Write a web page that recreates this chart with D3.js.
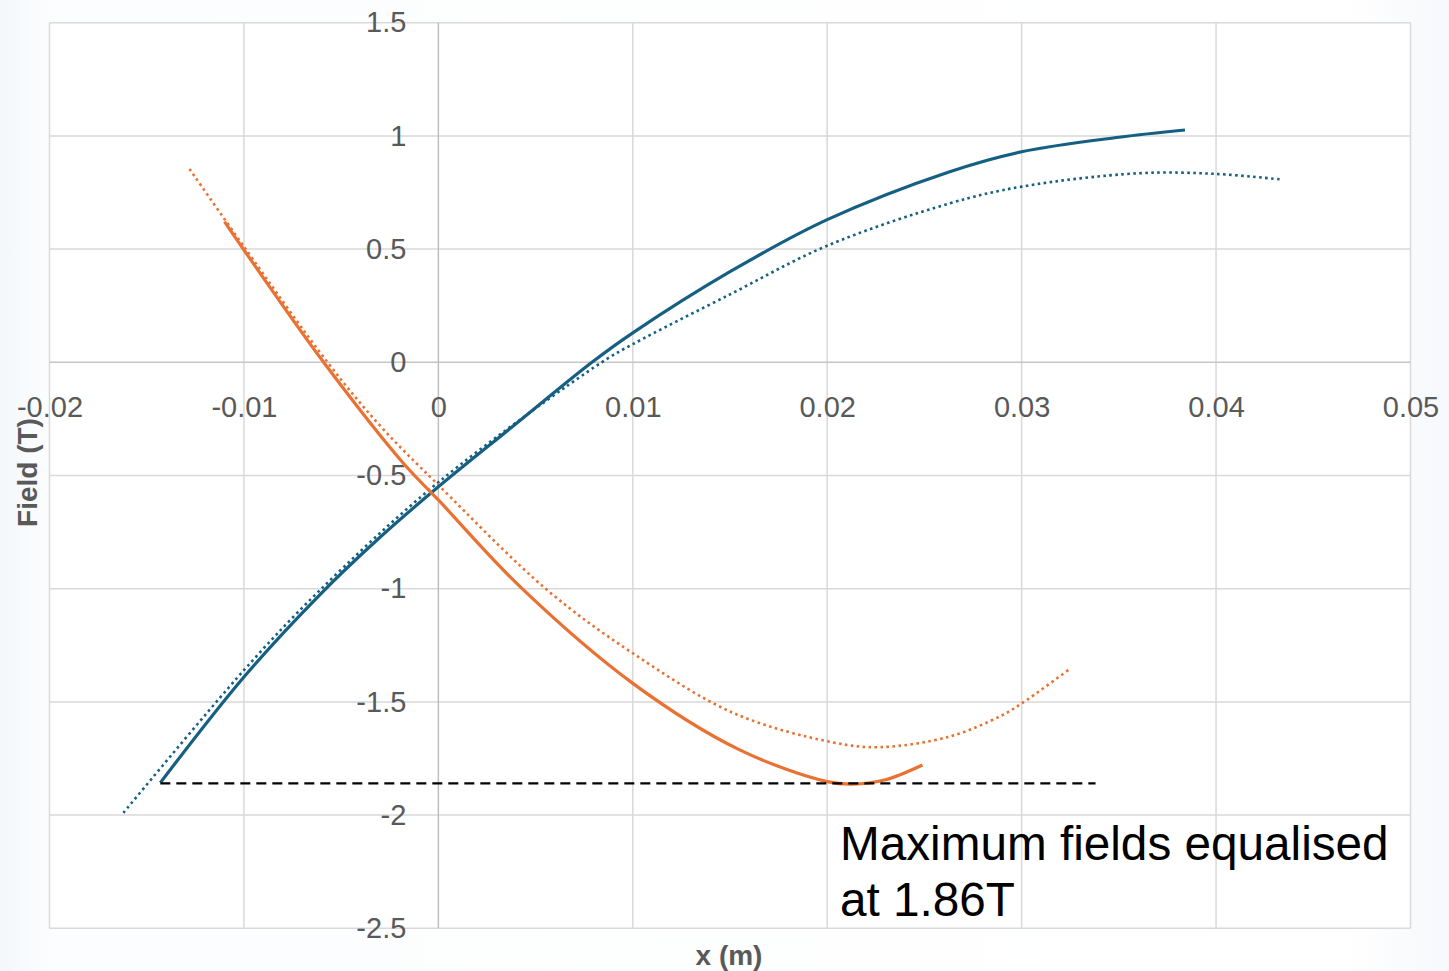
<!DOCTYPE html>
<html>
<head>
<meta charset="utf-8">
<script src="https://cdn.jsdelivr.net/npm/d3@7"></script>
<style>
  html, body { margin: 0; padding: 0; background: #ffffff; }
  svg { display: block; }
  text { font-family: "Liberation Sans", Arial, sans-serif; }
</style>
</head>
<body>
<svg id="chart" width="1449" height="971"></svg>
<script>
// ---- data ----
const xTicks = [-0.02, -0.01, 0, 0.01, 0.02, 0.03, 0.04, 0.05];
const yTicks = [1.5, 1, 0.5, 0, -0.5, -1, -1.5, -2, -2.5];

const blueSolidX = [-0.0143, -0.01, -0.00625, -0.003, 0, 0.0038, 0.0079, 0.01, 0.015, 0.02, 0.0263, 0.03, 0.035, 0.0384];
const blueSolidY = [-1.857, -1.39, -1.04, -0.773, -0.55, -0.285, 0.0, 0.13, 0.40, 0.63, 0.842, 0.93, 0.994, 1.026];

const blueDotX = [-0.0162, -0.01, -0.00625, 0, 0.0084, 0.01, 0.015, 0.02, 0.0263, 0.03, 0.036, 0.04, 0.0433];
const blueDotY = [-1.99, -1.36, -1.02, -0.53, 0.0, 0.08, 0.3, 0.515, 0.702, 0.776, 0.835, 0.832, 0.808];

const orangeSolidX = [-0.011, -0.01, -0.0059, -0.0018, 0, 0.0042, 0.01, 0.0155, 0.02, 0.0213, 0.023, 0.0249];
const orangeSolidY = [0.621, 0.496, 0.0, -0.446, -0.608, -0.991, -1.418, -1.712, -1.852, -1.863, -1.844, -1.779];

const orangeDotX = [-0.0128, -0.01, -0.0057, -0.003, 0, 0.0056, 0.01, 0.0152, 0.0203, 0.0227, 0.0263, 0.0289, 0.03, 0.0324];
const orangeDotY = [0.854, 0.511, 0.0, -0.28, -0.542, -1.006, -1.285, -1.55, -1.679, -1.70, -1.653, -1.563, -1.507, -1.359];

const maxField = -1.86;
const maxLineX = [-0.0143, 0.0338];
const noteLines = ["Maximum fields equalised", "at 1.86T"];

// ---- setup ----
const svg = d3.select("#chart");
const W = 1449, H = 971;

const defs = svg.append("defs");
const grad = defs.append("linearGradient").attr("id", "bg").attr("x1", "0").attr("x2", "1").attr("y1", "0").attr("y2", "0");
grad.append("stop").attr("offset", "0").attr("stop-color", "#f4f8fb");
grad.append("stop").attr("offset", "0.035").attr("stop-color", "#fcfdfe");
grad.append("stop").attr("offset", "0.93").attr("stop-color", "#ffffff");
grad.append("stop").attr("offset", "1").attr("stop-color", "#f6f8fb");
svg.append("rect").attr("width", W).attr("height", H).attr("fill", "url(#bg)");

const x = d3.scaleLinear().domain([-0.02, 0.05]).range([49.5, 1410.5]);
const y = d3.scaleLinear().domain([-2.5, 1.5]).range([928.3, 22.7]);

svg.append("rect")
  .attr("x", x(-0.02)).attr("y", y(1.5))
  .attr("width", x(0.05) - x(-0.02)).attr("height", y(-2.5) - y(1.5))
  .attr("fill", "#ffffff");

// gridlines
const grid = svg.append("g");
grid.selectAll("line.v").data(xTicks.filter(d => d !== 0)).join("line")
  .attr("x1", d => x(d)).attr("x2", d => x(d))
  .attr("y1", y(1.5)).attr("y2", y(-2.5))
  .attr("stroke", "#d9d9d9").attr("stroke-width", 1.5);
grid.selectAll("line.h").data(yTicks.filter(d => d !== 0)).join("line")
  .attr("x1", x(-0.02)).attr("x2", x(0.05))
  .attr("y1", d => y(d)).attr("y2", d => y(d))
  .attr("stroke", "#d9d9d9").attr("stroke-width", 1.5);
// axis lines
grid.append("line").attr("x1", x(-0.02)).attr("x2", x(0.05)).attr("y1", y(0)).attr("y2", y(0))
  .attr("stroke", "#c6c6c6").attr("stroke-width", 1.5);
grid.append("line").attr("x1", x(0)).attr("x2", x(0)).attr("y1", y(1.5)).attr("y2", y(-2.5))
  .attr("stroke", "#bfbfbf").attr("stroke-width", 1.5);

// axes (labels only)
const fmt = d => String(d);
const yAxis = svg.append("g").attr("transform", `translate(${x(0)},0)`)
  .call(d3.axisLeft(y).tickValues(yTicks).tickFormat(fmt).tickSize(0).tickPadding(32));
const xAxis = svg.append("g").attr("transform", `translate(0,${y(0)})`)
  .call(d3.axisBottom(x).tickValues(xTicks).tickFormat(fmt).tickSize(0).tickPadding(34));
[xAxis, yAxis].forEach(a => {
  a.select(".domain").remove();
  a.selectAll("text").attr("fill", "#595959").style("font-size", "29px")
    .style("font-family", "'Liberation Sans', Arial, sans-serif");
});

// series
const line = d3.line().x(d => x(d[0])).y(d => y(d[1])).curve(d3.curveCatmullRom.alpha(0.5));
const zip = (a, b) => a.map((v, i) => [v, b[i]]);

const BLUE = "#156082", ORANGE = "#E97132";

svg.append("path").datum(zip(blueDotX, blueDotY)).attr("d", line)
  .attr("fill", "none").attr("stroke", BLUE).attr("stroke-width", 2.6)
  .attr("stroke-dasharray", "2.6 3.4");
svg.append("path").datum(zip(orangeDotX, orangeDotY)).attr("d", line)
  .attr("fill", "none").attr("stroke", ORANGE).attr("stroke-width", 2.6)
  .attr("stroke-dasharray", "2.6 3.4");
svg.append("path").datum(zip(blueSolidX, blueSolidY)).attr("d", line)
  .attr("fill", "none").attr("stroke", BLUE).attr("stroke-width", 3.2);
svg.append("path").datum(zip(orangeSolidX, orangeSolidY)).attr("d", line)
  .attr("fill", "none").attr("stroke", ORANGE).attr("stroke-width", 3.2);

// max field dashed line
svg.append("line")
  .attr("x1", x(maxLineX[0])).attr("x2", x(maxLineX[1]))
  .attr("y1", y(maxField)).attr("y2", y(maxField))
  .attr("stroke", "#000").attr("stroke-width", 2.2).attr("stroke-dasharray", "10 6");

// axis titles
svg.append("text").attr("transform", `translate(37,${(y(1.5) + y(-2.5)) / 2 - 3}) rotate(-90)`)
  .attr("text-anchor", "middle").attr("fill", "#595959")
  .style("font-size", "28px").style("font-weight", "bold").text("Field (T)");
svg.append("text").attr("x", 729).attr("y", 965)
  .attr("text-anchor", "middle").attr("fill", "#595959")
  .style("font-size", "28px").style("font-weight", "bold").text("x (m)");

// annotation
svg.append("g").selectAll("text").data(noteLines).join("text")
  .attr("x", 840).attr("y", (d, i) => 860 + i * 56)
  .attr("fill", "#000").style("font-size", "47.7px").text(d => d);
</script>
</body>
</html>
